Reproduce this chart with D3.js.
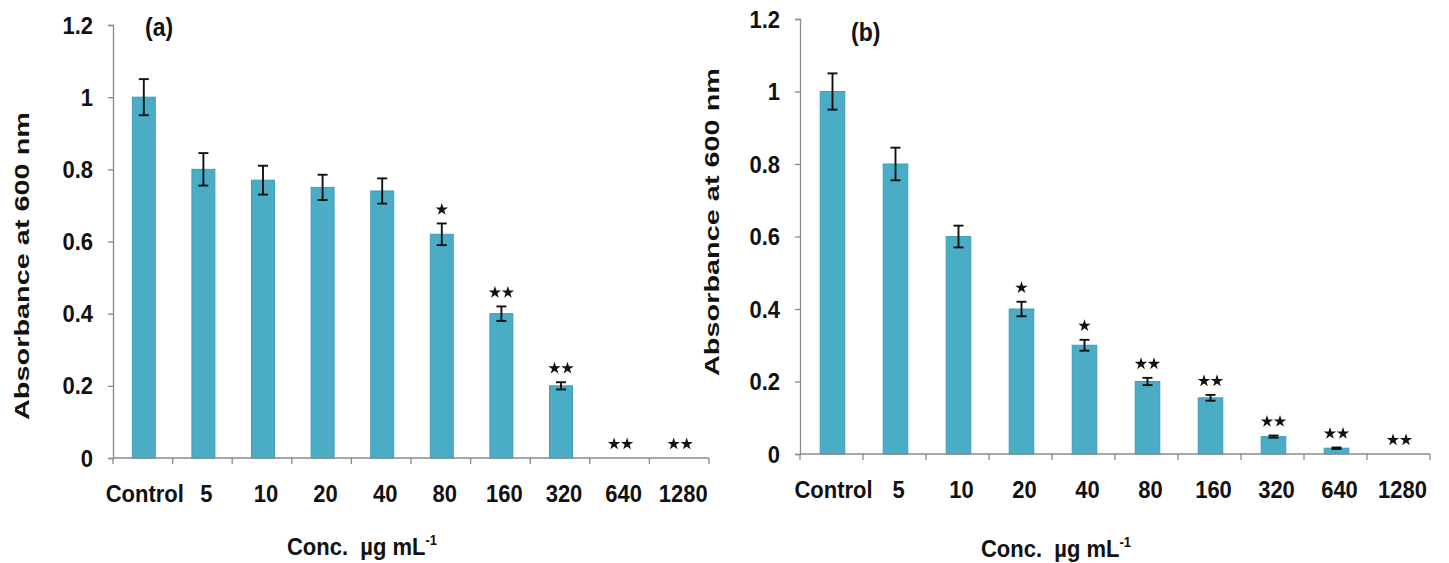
<!DOCTYPE html>
<html>
<head>
<meta charset="utf-8">
<script src="https://cdn.jsdelivr.net/npm/d3@7"></script>
<style>
  body { margin: 0; background: #fff; }
  svg { display: block; font-family: "Liberation Sans", Arial, sans-serif; font-weight: bold; }
</style>
</head>
<body>
<script>
// data
const categories = ["Control", "5", "10", "20", "40", "80", "160", "320", "640", "1280"];
const yTicks = [0, 0.2, 0.4, 0.6, 0.8, 1, 1.2];

const meanA = [1.0, 0.80, 0.77, 0.75, 0.74, 0.62, 0.40, 0.20, 0, 0];
const errA  = [0.05, 0.045, 0.04, 0.035, 0.035, 0.03, 0.02, 0.01, 0, 0];
const sigA  = ["", "", "", "", "", "*", "**", "**", "**", "**"];

const meanB = [1.0, 0.80, 0.60, 0.40, 0.30, 0.20, 0.155, 0.048, 0.016, 0];
const errB  = [0.05, 0.045, 0.03, 0.02, 0.015, 0.01, 0.008, 0.003, 0.002, 0];
const sigB  = ["", "", "", "*", "*", "**", "**", "**", "**", "**"];

const svg = d3.select("body").append("svg")
  .attr("width", 1449)
  .attr("height", 563);

// text in the figure is a little taller than wide
const stretch = 1.12;

function panel(p) {
  const g = svg.append("g");

  const x = d3.scaleBand().domain(categories).range([p.x0, p.x1]).padding(0);
  const y = d3.scaleLinear().domain([0, 1.2]).range([p.yBot, p.yTop]);
  const bw = x.step() * p.barFrac;

  const rows = categories.map((c, i) => ({ c, v: p.mean[i], e: p.err[i], s: p.sig[i] }));

  // bars
  g.append("g")
    .selectAll("rect")
    .data(rows.filter(d => d.v > 0))
    .join("rect")
    .attr("x", d => x(d.c) + x.step() / 2 - bw / 2 + 1)
    .attr("y", d => y(d.v))
    .attr("width", bw)
    .attr("height", d => y(0) - y(d.v))
    .attr("fill", "#4bacc6")
    .attr("stroke", "#3e9db7")
    .attr("stroke-width", 1);

  // y axis
  const yAxis = g.append("g")
    .attr("transform", `translate(${p.x0},0)`)
    .call(d3.axisLeft(y).tickValues(yTicks).tickSize(5).tickPadding(15)
      .tickFormat(d => d === 0 ? "0" : d === 1 ? "1" : d3.format(".1f")(d)));
  yAxis.select(".domain").attr("stroke", "#8a8a8a").attr("stroke-width", 1.3);
  yAxis.selectAll(".tick line").attr("stroke", "#8a8a8a").attr("stroke-width", 1.3);
  yAxis.selectAll(".tick text")
    .attr("font-family", "'Liberation Sans', Arial, sans-serif")
    .attr("font-weight", "bold")
    .attr("font-size", 22)
    .attr("fill", "#111")
    .attr("dy", null)
    .attr("y", 0)
    .attr("transform", `translate(-20,8) scale(1,${stretch})`)
    .attr("x", 0);

  // x axis (Excel style: ticks between categories)
  const xa = g.append("g").attr("transform", `translate(0,${y(0)})`);
  xa.append("line")
    .attr("x1", p.x0).attr("x2", p.x1)
    .attr("stroke", "#8a8a8a").attr("stroke-width", 1.3);
  xa.selectAll(".xt")
    .data(categories.map(c => x(c)).concat([p.x1]))
    .join("line")
    .attr("class", "xt")
    .attr("x1", d => d).attr("x2", d => d)
    .attr("y1", 0).attr("y2", 6)
    .attr("stroke", "#8a8a8a").attr("stroke-width", 1.3);
  xa.selectAll("text")
    .data(categories)
    .join("text")
    .attr("transform", d => `translate(${x(d) + x.step() / 2 + (d === "Control" ? 2 : 4)},44) scale(1,${stretch})`)
    .attr("text-anchor", "middle")
    .attr("font-size", 22)
    .attr("fill", "#111")
    .text(d => d);

  // error bars
  const eb = g.append("g")
    .attr("stroke", "#111")
    .attr("stroke-width", 1.9)
    .selectAll("g")
    .data(rows.filter(d => d.e > 0))
    .join("g")
    .attr("transform", d => `translate(${x(d.c) + x.step() / 2 + 1},0)`);
  eb.append("line").attr("y1", d => y(d.v + d.e)).attr("y2", d => y(d.v - d.e));
  eb.append("line").attr("x1", -5).attr("x2", 5).attr("y1", d => y(d.v + d.e)).attr("y2", d => y(d.v + d.e));
  eb.append("line").attr("x1", -5).attr("x2", 5).attr("y1", d => y(d.v - d.e)).attr("y2", d => y(d.v - d.e));

  // significance stars
  const star = d3.symbol(d3.symbolStar).size(48);
  rows.filter(d => d.s).forEach(d => {
    const cx = x(d.c) + x.step() / 2 + 1;
    const cy = y(d.v + d.e) - 14;
    const n = d.s.length;
    for (let k = 0; k < n; k++) {
      const dx = n === 1 ? 0 : (k === 0 ? -6.5 : 6.5);
      g.append("path")
        .attr("d", star)
        .attr("fill", "#111")
        .attr("transform", `translate(${cx + dx},${cy})`);
    }
  });

  // panel title
  g.append("text")
    .attr("transform", `translate(${p.titleX},${p.titleY}) scale(1,${stretch})`)
    .attr("font-size", 23)
    .attr("fill", "#111")
    .text(p.title);

  // y axis title
  g.append("text")
    .attr("transform", `translate(${p.ylabX},${p.ylabY}) rotate(-90)`)
    .attr("text-anchor", "middle")
    .attr("font-size", 21)
    .attr("textLength", 308)
    .attr("lengthAdjust", "spacingAndGlyphs")
    .attr("fill", "#111")
    .text("Absorbance at 600 nm");

  // x axis title
  const xt = g.append("text")
    .attr("transform", `translate(${p.xlabX},${p.xlabY}) scale(1,${stretch})`)
    .attr("text-anchor", "middle")
    .attr("font-size", 22)
    .attr("fill", "#111")
    .style("white-space", "pre");
  xt.append("tspan").text("Conc.  \u00b5g mL");
  xt.append("tspan").attr("dy", -9).attr("font-size", 13).text("-1");
}

panel({
  x0: 113, x1: 709, yBot: 458, yTop: 25, barFrac: 0.385,
  mean: meanA, err: errA, sig: sigA,
  title: "(a)", titleX: 145, titleY: 36,
  ylabX: 29, ylabY: 266,
  xlabX: 362, xlabY: 555
});

panel({
  x0: 800, x1: 1430, yBot: 454, yTop: 19, barFrac: 0.39,
  mean: meanB, err: errB, sig: sigB,
  title: "(b)", titleX: 851, titleY: 41,
  ylabX: 719, ylabY: 222,
  xlabX: 1056, xlabY: 557
});
</script>
</body>
</html>
